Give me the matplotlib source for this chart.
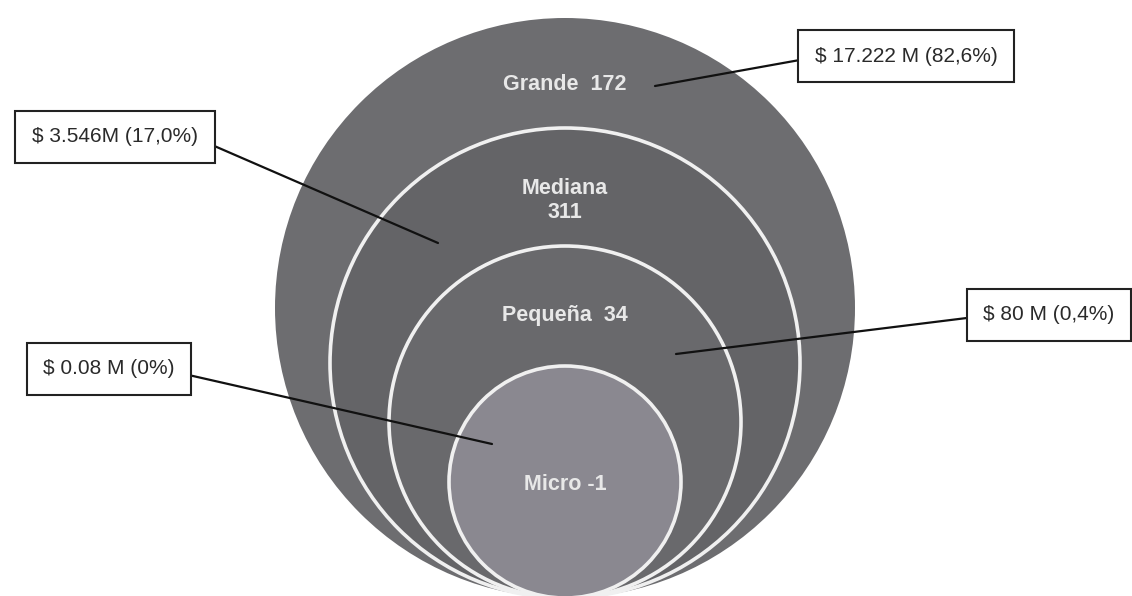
import matplotlib.pyplot as plt
from matplotlib.patches import Circle

# data
sizes = ["Grande", "Mediana", "Pequeña", "Micro"]
counts = [172, 311, 34, -1]
amounts = ["$ 17.222 M (82,6%)", "$ 3.546M (17,0%)", "$ 80 M (0,4%)", "$ 0.08 M (0%)"]

# layout (pixels, y down)
cx, base = 565, 598
radii = [290, 235, 176, 116]
fills = ["#6d6d70", "#646467", "#69696c", "#8a8890"]
box_xy = [(906, 56), (115, 137), (1049, 315), (109, 369)]
tip_xy = [(655, 86), (438, 243), (676, 354), (492, 444)]
# where the leader leaves each box (relative to the box)
anchors = [(0, 0.43), (1, 0.4), (0, 0.45), (1, 0.35)]

plt.rcParams['font.family'] = ['Liberation Sans', 'DejaVu Sans']

fig = plt.figure(figsize=(11.32, 5.96), dpi=100)
ax = fig.add_axes([0, 0, 1, 1])
ax.set_xlim(0, 1132)
ax.set_ylim(596, 0)
ax.set_aspect('equal')
ax.axis('off')

for i, r in enumerate(radii):
	ec = "none" if i == 0 else "#f0f0f0"
	ax.add_patch(Circle((cx, base - r), r, facecolor=fills[i], edgecolor=ec, lw=2.6, zorder=i + 1))

# labels inside circles
lab_style = dict(color="#e8e8e8", fontsize=15.5, fontweight='bold', ha='center', va='center', zorder=10)
ax.text(cx, 84, f"{sizes[0]}  {counts[0]}", **lab_style)
ax.text(cx, 189, sizes[1], **lab_style)
ax.text(cx, 213, str(counts[1]), **lab_style)
ax.text(cx, 316, f"{sizes[2]}  {counts[2]}", **lab_style)
ax.text(cx, 484, f"{sizes[3]} {counts[3]}", **lab_style)

# callout boxes
for txt, bxy, txy, rp in zip(amounts, box_xy, tip_xy, anchors):
	ax.annotate(txt, xy=txy, xytext=bxy, ha='center', va='center', fontsize=15, color="#2a2a2a",
		bbox=dict(boxstyle='square,pad=0.8', fc='white', ec='#222222', lw=1.5),
		arrowprops=dict(arrowstyle='-', color='#111111', lw=1.6, shrinkA=0, shrinkB=0, relpos=rp),
		zorder=20)

fig.savefig("out.png", dpi=100, facecolor='white')
